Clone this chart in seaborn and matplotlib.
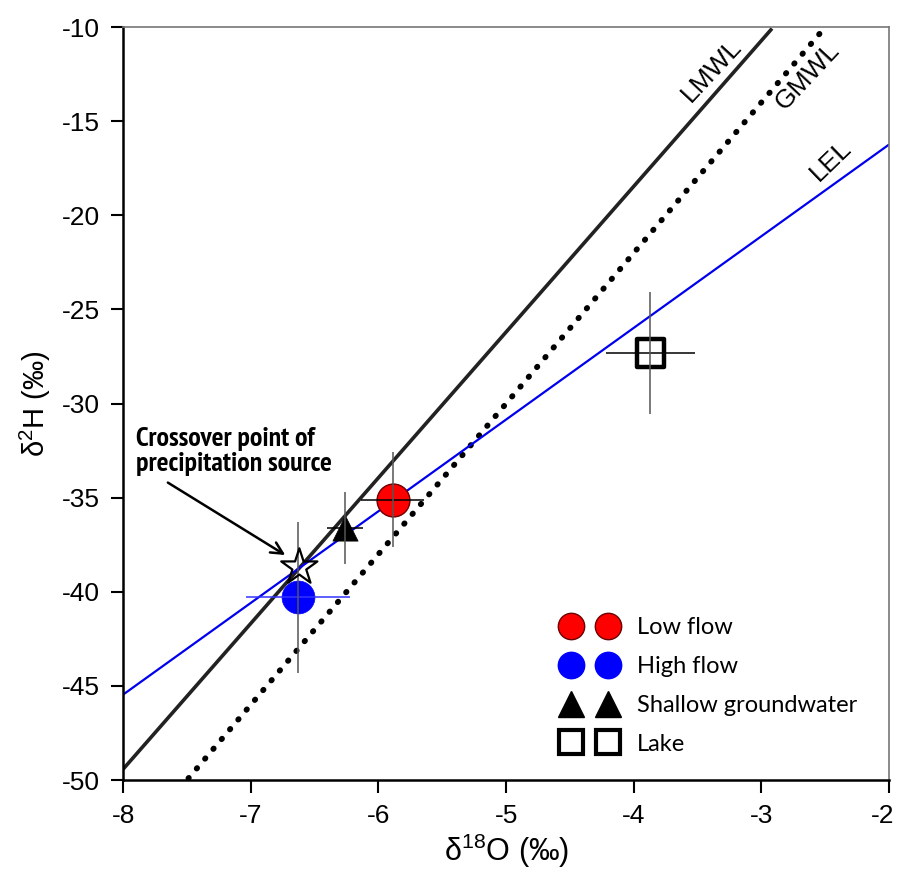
import numpy as np
import pandas as pd
import matplotlib
matplotlib.use("Agg")
import matplotlib.pyplot as plt
import matplotlib.transforms as mtransforms
from matplotlib.lines import Line2D
from matplotlib import font_manager
import seaborn as sns

# ---- data ----
groups = ["Low flow", "High flow", "Shallow groundwater", "Lake"]
d18O = [-5.89, -6.63, -6.26, -3.87]
d2H = [-35.1, -40.3, -36.6, -27.3]
d18O_err = [0.25, 0.41, 0.14, 0.35]
d2H_err = [2.5, 4.0, 1.9, 3.25]

line_names = ["LMWL", "GMWL", "LEL"]
line_slopes = [7.74, 8.0, 4.87]
line_intercepts = [12.5, 10.0, -6.5]

cross_x, cross_y = -6.62, -38.7

xticks = [-8, -7, -6, -5, -4, -3, -2]
yticks = [-10, -15, -20, -25, -30, -35, -40, -45, -50]

# ---- style ----
sns.set_theme(style="white")
plt.rcParams["font.family"] = ["Liberation Sans", "DejaVu Sans"]
plt.rcParams["text.color"] = "black"
plt.rcParams["axes.labelcolor"] = "black"
plt.rcParams["xtick.color"] = "black"
plt.rcParams["ytick.color"] = "black"
plt.rcParams["mathtext.fontset"] = "custom"
plt.rcParams["mathtext.rm"] = "Liberation Sans"
plt.rcParams["mathtext.it"] = "Liberation Sans:italic"
plt.rcParams["mathtext.bf"] = "Liberation Sans:bold"

# pick a condensed bold face for the annotation if available
narrow = None
cands = []
for f in font_manager.fontManager.ttflist:
    n = f.name.lower()
    if ("narrow" in n or "condensed" in n or f.stretch in ("condensed", 75, "semi-condensed")) \
            and f.weight in ("bold", 700):
        cands.append(f)
cands.sort(key=lambda f: 0 if "narrow" in f.name.lower() else 1)
if cands:
    narrow = cands[0].fname
if narrow is not None:
    sz_ann = 20 if "narrow" in cands[0].name.lower() else 14.5
    ann_font = dict(fontproperties=font_manager.FontProperties(fname=narrow, size=sz_ann))
else:
    ann_font = dict(fontsize=15, fontweight="bold",
                    family=["Liberation Sans", "DejaVu Sans"])

fig = plt.figure(figsize=(8.99, 8.8), dpi=100)
ax = fig.add_axes([0.137, 0.1136, 0.852, 0.8557])

# lines
xs = np.linspace(-8, -2, 400)
styles = {
    "LMWL": dict(color="#222222", lw=2.6, ls="-"),
    "GMWL": dict(color="black", lw=4.2, ls=(0, (0.1, 2.1))),
    "LEL": dict(color="#0000ee", lw=1.6, ls="-"),
}
for name, m, b in zip(line_names, line_slopes, line_intercepts):
    df = pd.DataFrame({"x": xs, "y": m * xs + b})
    df = df[(df.y >= -50) & (df.y <= -10)]
    st = styles[name]
    ax.plot(df.x, df.y, color=st["color"], lw=st["lw"], ls=st["ls"],
            solid_capstyle="butt", dash_capstyle="round", zorder=2)

# points
pts = pd.DataFrame({"group": groups, "x": d18O, "y": d2H})
mk = {"Low flow": "o", "High flow": "o", "Shallow groundwater": "^", "Lake": "s"}
fc = {"Low flow": "red", "High flow": "blue", "Shallow groundwater": "black", "Lake": "none"}
ec = {"Low flow": "#6a0000", "High flow": "blue", "Shallow groundwater": "black", "Lake": "black"}
sz = {"Low flow": 560, "High flow": 560, "Shallow groundwater": 330, "Lake": 400}
lw_m = {"Low flow": 1.0, "High flow": 0.5, "Shallow groundwater": 0.5, "Lake": 3.2}
for g in groups:
    sub = pts[pts.group == g]
    sns.scatterplot(data=sub, x="x", y="y", marker=mk[g], s=sz[g],
                    facecolor=fc[g], edgecolor=ec[g], linewidth=lw_m[g],
                    ax=ax, zorder=4, legend=False)

# error bars
for i, g in enumerate(groups):
    hcol = "#3333ff" if g == "High flow" else "black"
    ax.errorbar(d18O[i], d2H[i], xerr=d18O_err[i], fmt="none",
                ecolor=hcol, elinewidth=1.1, capsize=0, zorder=5)
    ax.errorbar(d18O[i], d2H[i], yerr=d2H_err[i], fmt="none",
                ecolor="#555555", elinewidth=1.1, capsize=0, zorder=5)

# crossover star
ax.scatter([cross_x], [cross_y], marker="*", s=750, facecolor="none",
           edgecolor="black", linewidth=1.6, zorder=6)

ax.text(-7.90, -32.55, "Crossover point of\nprecipitation source",
        ha="left", va="center", linespacing=1.05, zorder=7, **ann_font)
ax.annotate("", xy=(-6.73, -38.05), xytext=(-7.65, -34.2),
            arrowprops=dict(arrowstyle="->,head_length=0.7,head_width=0.35",
                            color="black", lw=1.8, shrinkA=0, shrinkB=0),
            zorder=7)

# line labels
ax.text(-3.39, -12.3, "LMWL", rotation=47, fontsize=19, ha="center", va="center")
ax.text(-2.64, -12.6, "GMWL", rotation=47, fontsize=19, ha="center", va="center")
ax.text(-2.46, -17.1, "LEL", rotation=44, fontsize=19, ha="center", va="center")

# axes
ax.set_xlim(-8, -2)
ax.set_ylim(-50, -10)
ax.set_xticks(xticks)
ax.set_yticks(yticks)
ax.set_xticklabels([str(t) for t in xticks])
ax.set_yticklabels([str(t) for t in yticks])
ax.tick_params(axis="both", direction="out", length=9, width=1.5,
               labelsize=19, color="black", labelcolor="black", pad=8,
               bottom=True, left=True)
# keep the last x tick label inside the canvas
last = ax.get_xticklabels()[-1]
last.set_transform(last.get_transform() +
                   mtransforms.ScaledTranslation(-6 / 100, 0, fig.dpi_scale_trans))
for s in ["left", "bottom"]:
    ax.spines[s].set_color("black")
    ax.spines[s].set_linewidth(1.8)
for s in ["top", "right"]:
    ax.spines[s].set_color("#777777")
    ax.spines[s].set_linewidth(1.2)
ax.grid(False)

ax.set_xlabel("δ$^{18}$O (‰)", fontsize=22, labelpad=3)
ax.set_ylabel("δ$^{2}$H (‰)", fontsize=21, labelpad=6)

# legend
handles = []
for g in groups:
    handles.append(Line2D([0], [0], marker=mk[g], ls="none",
                          markerfacecolor=fc[g], markeredgecolor=ec[g],
                          markeredgewidth=(3 if g == "Lake" else 1.0),
                          markersize=(19 if g != "Lake" else 17)))
leg = ax.legend(handles, groups, numpoints=2, loc="upper left",
                bbox_to_anchor=(0.575, 0.216), frameon=False,
                prop={"family": ["Lato", "DejaVu Sans"], "size": 17},
                handlelength=2.2, handletextpad=0.9, labelspacing=0.75,
                borderpad=0.0, borderaxespad=0.0)

fig.savefig("out.png", dpi=100)
